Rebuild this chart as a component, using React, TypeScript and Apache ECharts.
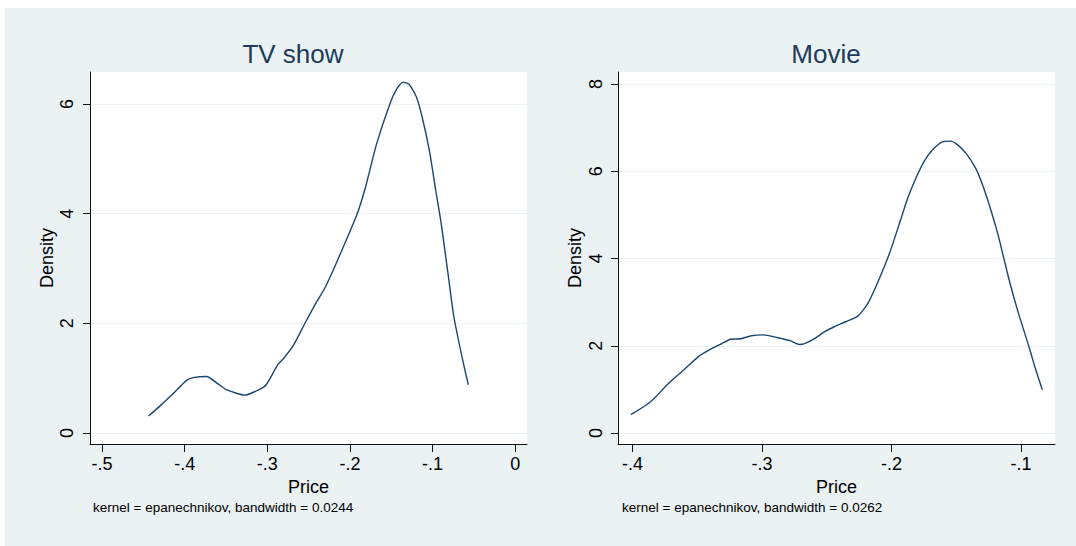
import React, { useEffect, useRef } from "react";
import * as echarts from "echarts";

// TV show kernel density
const tvPrice = [-0.4437, -0.430, -0.4144, -0.3977, -0.3894, -0.3735, -0.360, -0.3497, -0.3268, -0.310, -0.3017, -0.2871, -0.2809, -0.2684, -0.2538, -0.2412, -0.2308, -0.2162, -0.1912, -0.1807, -0.1682, -0.1515, -0.1432, -0.1357, -0.1286, -0.1202, -0.1131, -0.1035, -0.0965, -0.0898, -0.0806, -0.0743, -0.0639, -0.0568];
const tvDensity = [0.31, 0.49, 0.71, 0.96, 1.01, 1.03, 0.90, 0.79, 0.69, 0.79, 0.87, 1.25, 1.35, 1.60, 2.02, 2.37, 2.63, 3.11, 4.00, 4.51, 5.25, 6.01, 6.28, 6.40, 6.36, 6.15, 5.79, 5.12, 4.45, 3.84, 2.82, 2.12, 1.35, 0.88];

// Movie kernel density
const moviePrice = [-0.4013, -0.3899, -0.3827, -0.3721, -0.3602, -0.349, -0.3403, -0.331, -0.3243, -0.3164, -0.3082, -0.2989, -0.2884, -0.2777, -0.2711, -0.2671, -0.2591, -0.2513, -0.2445, -0.2354, -0.226, -0.2182, -0.2089, -0.2009, -0.1929, -0.1876, -0.181, -0.1743, -0.1677, -0.161, -0.1544, -0.1491, -0.1424, -0.135, -0.1292, -0.1226, -0.1172, -0.1093, -0.1026, -0.0933, -0.0894, -0.0835];
const movieDensity = [0.42, 0.63, 0.81, 1.14, 1.45, 1.75, 1.91, 2.05, 2.15, 2.16, 2.23, 2.25, 2.19, 2.11, 2.03, 2.05, 2.17, 2.33, 2.43, 2.55, 2.68, 2.97, 3.57, 4.17, 4.89, 5.37, 5.85, 6.25, 6.51, 6.67, 6.69, 6.61, 6.41, 6.07, 5.65, 5.05, 4.49, 3.53, 2.81, 1.93, 1.53, 0.99];

// Tick values
const tvXTicks = [-0.5, -0.4, -0.3, -0.2, -0.1, 0];
const tvYTicks = [0, 2, 4, 6];
const movieXTicks = [-0.4, -0.3, -0.2, -0.1];
const movieYTicks = [0, 2, 4, 6, 8];

const titles = ["TV show", "Movie"];
const notes = [
  "kernel = epanechnikov, bandwidth = 0.0244",
  "kernel = epanechnikov, bandwidth = 0.0262",
];
const xTitle = "Price";
const yTitle = "Density";

const NAVY = "#1A476F";
const BG = "#EAF2F3";
const FONT = "'Liberation Sans', Arial, sans-serif";

const fmtX = (v: number) => {
  if (Math.abs(v) < 1e-9) return "0";
  const s = (Math.round(v * 10) / 10).toString();
  return s.replace("0.", ".");
};

function xAxisOpt(gridIndex: number, min: number, max: number, ticks: number[]) {
  return {
    type: "value",
    gridIndex,
    min,
    max,
    name: xTitle,
    nameLocation: "middle",
    nameGap: 30,
    nameTextStyle: { fontFamily: FONT, fontSize: 18, color: "#000" },
    axisLine: { show: true, onZero: false, lineStyle: { color: "#111", width: 1 } },
    axisTick: { show: true, length: 8, customValues: ticks, lineStyle: { color: "#111" } },
    axisLabel: {
      customValues: ticks,
      formatter: fmtX,
      fontFamily: FONT,
      fontSize: 18,
      color: "#000",
      margin: 11,
      hideOverlap: false,
    },
    splitLine: { show: false },
  };
}

function yAxisOpt(gridIndex: number, min: number, max: number, ticks: number[], margin: number) {
  return {
    type: "value",
    gridIndex,
    min,
    max,
    name: yTitle,
    nameLocation: "middle",
    nameRotate: 90,
    nameGap: 34,
    nameTextStyle: { fontFamily: FONT, fontSize: 18, color: "#000" },
    axisLine: { show: true, onZero: false, lineStyle: { color: "#111", width: 1 } },
    axisTick: { show: true, length: 7, customValues: ticks, lineStyle: { color: "#111" } },
    axisLabel: {
      customValues: ticks,
      rotate: 90,
      formatter: (v: number) => String(Math.round(v)),
      fontFamily: FONT,
      fontSize: 18,
      color: "#000",
      margin,
      hideOverlap: false,
    },
    splitLine: { show: true, lineStyle: { color: BG, width: 1 } },
  };
}

export default function App() {
  const ref = useRef<HTMLDivElement>(null);
  useEffect(() => {
    if (!ref.current) return;
    const chart = echarts.init(ref.current, null, { renderer: "svg" });
    chart.setOption({
      animation: false,
      backgroundColor: "#ffffff",
      title: [
        {
          text: titles[0],
          left: 288,
          top: 36,
          textAlign: "center",
          textStyle: { fontFamily: FONT, fontSize: 26, fontWeight: "normal", color: "#1E3A5C" },
        },
        {
          text: titles[1],
          left: 821,
          top: 36,
          textAlign: "center",
          textStyle: { fontFamily: FONT, fontSize: 26, fontWeight: "normal", color: "#1E3A5C" },
        },
      ],
      graphic: [
        {
          type: "rect",
          z: -10,
          silent: true,
          shape: { x: 5, y: 8, width: 1071, height: 538 },
          style: { fill: BG },
        },
        {
          type: "text",
          x: 93,
          y: 507,
          style: { text: notes[0], fontFamily: FONT, fontSize: 13.5, fill: "#000", verticalAlign: "middle" },
        },
        {
          type: "text",
          x: 622,
          y: 507,
          style: { text: notes[1], fontFamily: FONT, fontSize: 13.5, fill: "#000", verticalAlign: "middle" },
        },
      ],
      grid: [
        { left: 90, top: 72, width: 437, height: 372, show: true, backgroundColor: "#fff", borderWidth: 0 },
        { left: 618, top: 72, width: 437, height: 372, show: true, backgroundColor: "#fff", borderWidth: 0 },
      ],
      xAxis: [
        xAxisOpt(0, -0.5145, 0.0142, tvXTicks),
        xAxisOpt(1, -0.4112, -0.0737, movieXTicks),
      ],
      yAxis: [
        yAxisOpt(0, -0.2008, 6.584, tvYTicks, 14),
        yAxisOpt(1, -0.252, 8.275, movieYTicks, 13),
      ],
      series: [
        {
          type: "line",
          xAxisIndex: 0,
          yAxisIndex: 0,
          data: tvPrice.map((x, i) => [x, tvDensity[i]]),
          showSymbol: false,
          smooth: 0.2,
          lineStyle: { color: NAVY, width: 1.4 },
        },
        {
          type: "line",
          xAxisIndex: 1,
          yAxisIndex: 1,
          data: moviePrice.map((x, i) => [x, movieDensity[i]]),
          showSymbol: false,
          smooth: 0.2,
          lineStyle: { color: NAVY, width: 1.4 },
        },
      ],
    });
    return () => chart.dispose();
  }, []);
  return (
    <div
      ref={ref}
      style={{ position: "absolute", left: 0, top: 0, width: 1076, height: 546 }}
    />
  );
}
